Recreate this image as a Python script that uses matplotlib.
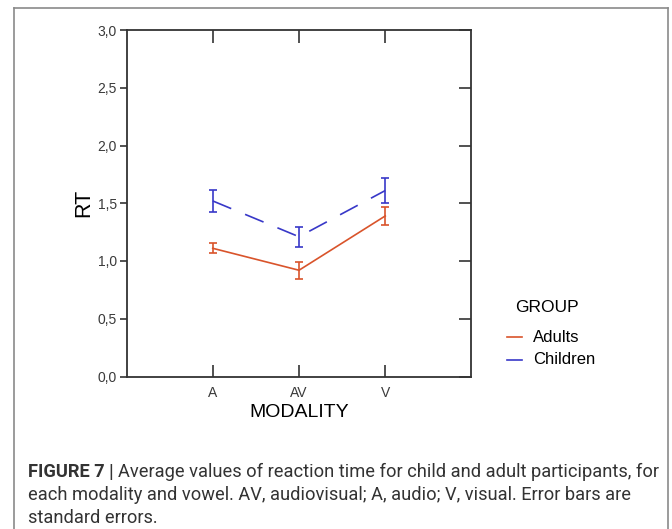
import matplotlib
matplotlib.use("Agg")
import matplotlib.pyplot as plt
from matplotlib.lines import Line2D

# Data
categories = ["A", "AV", "V"]
adults_mean = [1.11, 0.92, 1.39]
adults_se = [0.045, 0.075, 0.075]
children_mean = [1.52, 1.21, 1.61]
children_se = [0.095, 0.085, 0.105]
yticks = [0.0, 0.5, 1.0, 1.5, 2.0, 2.5, 3.0]
ytick_labels = ["0,0", "0,5", "1,0", "1,5", "2,0", "2,5", "3,0"]

adult_color = "#d9542b"
child_color = "#3838c8"

W, H = 672, 529
fig = plt.figure(figsize=(W / 100, H / 100), dpi=100)
plt.rcParams['font.family'] = ['Liberation Sans', 'DejaVu Sans']

ax = fig.add_axes([126.5 / W, 1 - 376.5 / H, 345 / W, 346.5 / H])
x = list(range(1, len(categories) + 1))

ax.errorbar(x, adults_mean, yerr=adults_se, color=adult_color, lw=1.2,
            capsize=3, capthick=1.2, elinewidth=1.2, label="Adults")
ax.errorbar(x, children_mean, yerr=children_se, color=child_color, lw=1.2,
            capsize=3, capthick=1.2, elinewidth=1.2, dashes=(12, 9),
            label="Children")

ax.set_xlim(0, len(categories) + 1)
ax.set_ylim(0, 3.0)
ax.set_xticks(x)
ax.set_xticklabels(categories, fontsize=10, color="#3a3a3a")
ax.set_yticks(yticks)
ax.set_yticklabels(ytick_labels, fontsize=10, color="#3a3a3a")
ax.tick_params(axis="x", direction="in", length=9, width=1.2, top=True,
               color="#333333", pad=7)
ax.tick_params(axis="y", direction="out", length=5, width=1.2,
               color="#333333", pad=2)
ax.tick_params(axis="y", which="major", right=True)
for t in ax.yaxis.get_major_ticks():
    t.tick2line.set_marker(0)
    t.tick2line.set_markersize(9)
for s in ax.spines.values():
    s.set_color("#333333")
    s.set_linewidth(1.3)

ax.set_ylabel("RT", fontsize=15.5, labelpad=2)
ax.set_xlabel("MODALITY", fontsize=14, labelpad=3)

# legend
fig.text(515 / W, 1 - 308 / H, "GROUP", fontsize=12.5, va="center", ha="left")
fig.add_artist(Line2D([507 / W, 522 / W], [1 - 337 / H] * 2, color=adult_color, lw=1.2))
fig.add_artist(Line2D([507 / W, 522 / W], [1 - 360 / H] * 2, color=child_color, lw=1.2))
fig.text(533 / W, 1 - 337 / H, "Adults", fontsize=12, va="center", ha="left")
fig.text(533 / W, 1 - 360 / H, "Children", fontsize=12, va="center", ha="left")

# border
bc = "#8a8a8a"
fig.add_artist(Line2D([14 / W, 14 / W], [-0.01, 1 - 8 / H], color=bc, lw=1.2))
fig.add_artist(Line2D([667.5 / W, 667.5 / W], [-0.01, 1 - 8 / H], color=bc, lw=1.2))
fig.add_artist(Line2D([14 / W, 667.5 / W], [1 - 8 / H] * 2, color=bc, lw=1.2))

# caption
cap_fs = 13.15
cc = "#333333"
cfam = ["Roboto", "DejaVu Sans"]
fig.canvas.draw()
r = fig.canvas.get_renderer()
tb = fig.text(28 / W, 1 - 472 / H, "FIGURE 7 |", fontsize=cap_fs, weight="bold",
              color=cc, va="center", ha="left", family=cfam)
ext = tb.get_window_extent(renderer=r)
fig.text((ext.x1 + 4) / W, 1 - 472 / H,
         "Average values of reaction time for child and adult participants, for",
         fontsize=cap_fs, color=cc, va="center", ha="left", family=cfam)
fig.text(28 / W, 1 - 495 / H,
         "each modality and vowel. AV, audiovisual; A, audio; V, visual. Error bars are",
         fontsize=cap_fs, color=cc, va="center", ha="left", family=cfam)
fig.text(28 / W, 1 - 518 / H, "standard errors.",
         fontsize=cap_fs, color=cc, va="center", ha="left", family=cfam)

fig.savefig("out.png", dpi=100)
